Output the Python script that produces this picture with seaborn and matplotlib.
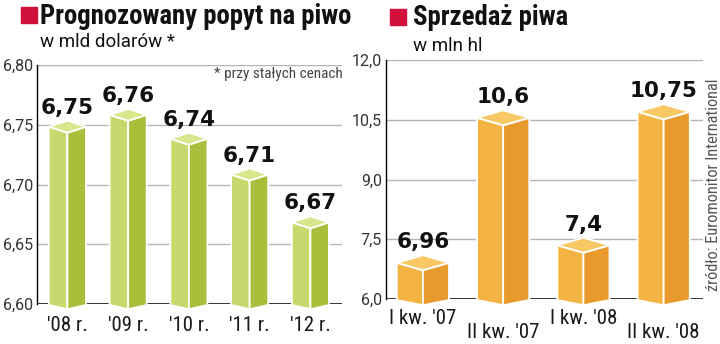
import numpy as np
import pandas as pd
import seaborn as sns
import matplotlib
matplotlib.use("Agg")
import matplotlib.pyplot as plt
from matplotlib import font_manager as fm
from matplotlib.patches import Polygon, Rectangle

# ---------------- data ----------------
years = ["'08 r.", "'09 r.", "'10 r.", "'11 r.", "'12 r."]
demand = [6.75, 6.76, 6.74, 6.71, 6.67]
demand_ticks = [6.60, 6.65, 6.70, 6.75, 6.80]

quarters = ["I kw. '07", "II kw. '07", "I kw. '08", "II kw. '08"]
sales = [6.96, 10.6, 7.4, 10.75]
sales_ticks = [6.0, 7.5, 9.0, 10.5, 12.0]

title_left = "Prognozowany popyt na piwo"
sub_left = "w mld dolarów *"
note_left = "* przy stałych cenach"
title_right = "Sprzedaż piwa"
sub_right = "w mln hl"
source = "źródło: Euromonitor International"

# ---------------- fonts ----------------
sns.set_theme(style="white")
names = {f.name for f in fm.fontManager.ttflist}
cands = ["Roboto Condensed", "Liberation Sans Narrow", "Noto Sans Condensed",
         "Open Sans Condensed", "DejaVu Sans Condensed"]
cond = next((c for c in cands if c in names), None)
if cond is None:
    cond = "Roboto"
COND = [cond, "DejaVu Sans"]
REG = ["Roboto", "DejaVu Sans"]
plt.rcParams["font.family"] = COND

W, H = 720, 344
fig = plt.figure(figsize=(W / 100, H / 100), dpi=100)

def px_axes(l, t, r, b):
    return fig.add_axes([l / W, 1 - b / H, (r - l) / W, (b - t) / H])

ax1 = px_axes(37, 65, 342, 304)
ax2 = px_axes(386, 60, 703, 299)

GREEN = dict(front="#c6d96c", side="#a9bf3c", top="#d8e68c")
ORANGE = dict(front="#f4b443", side="#e89a2c", top="#f8c864")


def draw_chart(ax, cats, vals, ticks, ylim, xlim, width, cols, dpx, fmt,
               label_offsets):
    df = pd.DataFrame({"cat": cats, "val": vals})
    sns.barplot(data=df, x="cat", y="val", ax=ax, width=width,
                color=cols["front"], saturation=1)
    ax.set_ylim(*ylim)
    ax.set_xlim(*xlim)
    ax.set_xlabel("")
    ax.set_ylabel("")
    ax.set_yticks(ticks)
    ax.set_yticklabels([fmt(t) for t in ticks], fontsize=11.5, color="#333333",
                       family=REG)
    ax.set_xticks([])
    ax.tick_params(axis="y", length=0, pad=3)
    for s in ["top", "right", "bottom"]:
        ax.spines[s].set_visible(False)
    ax.spines["left"].set_color("black")
    ax.spines["left"].set_linewidth(1.0)
    ax.spines["left"].set_zorder(1)
    for t in ticks[1:]:
        ax.axhline(t, color="#b5b5b5", lw=1.0, zorder=0)
    ax.axhline(ticks[0], color="#222222", lw=2.0, zorder=1)

    ax_h_px = ax.get_position().height * H
    unit = (ylim[1] - ylim[0]) / ax_h_px  # data per pixel
    d = dpx * unit
    lo = 2 * unit
    b = ylim[0] - 1 * unit
    for p, v in zip(ax.patches, vals):
        x0 = p.get_x(); w = p.get_width()
        L, M, R = x0, x0 + w / 2, x0 + w
        vt = v - lo
        p.set_visible(False)
        front = [(L, vt), (M, vt - d), (M, b - d * 0.7), (L, b)]
        side = [(M, vt - d), (R, vt), (R, b), (M, b - d * 0.7)]
        top = [(L, vt), (M, vt - d), (R, vt), (M, vt + d)]
        for poly, c in [(front, cols["front"]), (side, cols["side"]), (top, cols["top"])]:
            ax.add_patch(Polygon(poly, closed=True, facecolor=c, edgecolor="white",
                                 lw=1.3, zorder=3, clip_on=False, joinstyle="round"))
        ax.annotate(str(v).replace(".", ","), xy=(M, vt + d), xycoords="data",
                    xytext=(0, 7), textcoords="offset pixels",
                    ha="center", va="baseline", fontsize=15.5, fontweight="bold",
                    color="#111111", family="DejaVu Sans", zorder=5)
    for i, (p, lab) in enumerate(zip(ax.patches, cats)):
        M = p.get_x() + p.get_width() / 2
        ax.annotate(lab, xy=(M, ylim[0]), xycoords="data",
                    xytext=(0, label_offsets[i % len(label_offsets)]),
                    textcoords="offset pixels", ha="center", va="center",
                    fontsize=15, color="#1a1a1a", annotation_clip=False)


draw_chart(ax1, years, demand, demand_ticks, (6.60, 6.80), (-0.5, 4.52), 0.61,
           GREEN, 6, lambda t: f"{t:.2f}".replace(".", ","), [-21])
draw_chart(ax2, quarters, sales, sales_ticks, (6.0, 12.0), (-0.46, 3.49), 0.65,
           ORANGE, 7.5, lambda t: f"{t:.1f}".replace(".", ","), [-19, -33])

# titles
RED = "#d10f3b"
for (sx, sy, tx, tby, sby, title, sub) in [
        (21, 7, 40, 24, 47, title_left, sub_left),
        (390, 9, 413, 25, 51, title_right, sub_right)]:
    fig.patches.append(Rectangle((sx / W, 1 - (sy + 16) / H), 16 / W, 16 / H,
                                 transform=fig.transFigure, color=RED))
    fig.text(tx / W, 1 - tby / H, title, fontsize=19.3, fontweight="bold",
             va="baseline", ha="left", color="#111111")
    fig.text(tx / W, 1 - sby / H, sub, fontsize=13.5, va="baseline",
             ha="left", color="#111111", family=REG)

fig.text(343 / W, 1 - 74 / H, note_left, fontsize=11, ha="right", va="center",
         color="#444444")
fig.text(713 / W, 1 - 185 / H, source, fontsize=11.8, rotation=90,
         ha="center", va="center", color="#555555")

fig.savefig("out.png", dpi=100, facecolor="white")
